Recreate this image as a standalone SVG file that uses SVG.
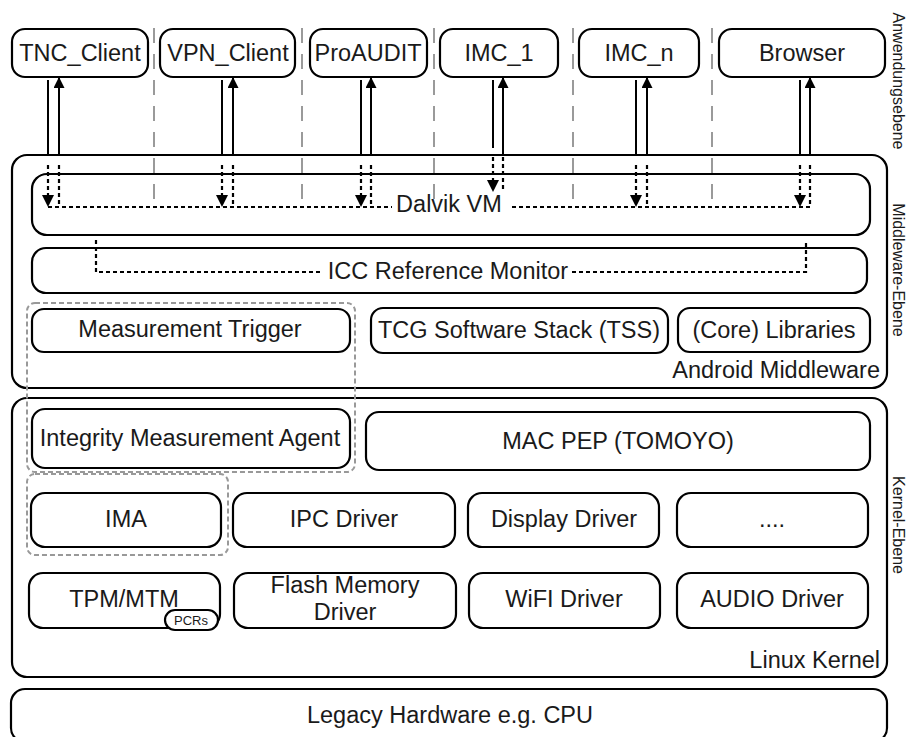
<svg xmlns="http://www.w3.org/2000/svg" width="908" height="737" viewBox="0 0 908 737">
<defs>
<style>
.box{fill:#fff;stroke:#000;stroke-width:2.2}
.frame{fill:none;stroke:#000;stroke-width:2.2}
.grp{fill:none;stroke:#999;stroke-width:2;stroke-dasharray:5,3}
.sep{fill:none;stroke:#9a9a9a;stroke-width:2;stroke-dasharray:15,11}
.solid{fill:none;stroke:#000;stroke-width:2}
.dot{fill:none;stroke:#000;stroke-width:2.2;stroke-dasharray:4,3}
text{font-family:"Liberation Sans",Arial,sans-serif;fill:#1a1a1a}
.t{font-size:23.5px;text-anchor:middle}
.side{font-size:16px;text-anchor:middle}
</style>
<marker id="ah" viewBox="0 0 10 10" refX="10" refY="5" markerWidth="6" markerHeight="5.5" markerUnits="strokeWidth" orient="auto">
<path d="M0,0 L10,5 L0,10 z" fill="#000"/>
</marker>
</defs>
<rect width="908" height="737" fill="#fff"/>

<!-- layer frames -->
<g id="layer-middleware">
<rect class="frame" x="12" y="155" width="875" height="233" rx="15"/>
<text x="880" y="378" style="font-size:23.5px;text-anchor:end">Android Middleware</text>
</g>
<g id="layer-kernel">
<rect class="frame" x="12" y="398" width="875" height="279" rx="15"/>
<text x="880" y="668" style="font-size:23.5px;text-anchor:end">Linux Kernel</text>
</g>
<g id="legacy">
<rect class="frame" x="11" y="689" width="876" height="53" rx="14"/>
<text class="t" x="450" y="723">Legacy Hardware e.g. CPU</text>
</g>

<!-- app nodes -->
<g id="tnc_client"><rect class="box" x="12" y="29" width="136" height="48" rx="13"/><text class="t" x="80" y="61">TNC_Client</text></g>
<g id="vpn_client"><rect class="box" x="160" y="29" width="135" height="48" rx="13"/><text class="t" x="228" y="61">VPN_Client</text></g>
<g id="proaudit"><rect class="box" x="310" y="29" width="117" height="48" rx="13"/><text class="t" x="368" y="61">ProAUDIT</text></g>
<g id="imc_1"><rect class="box" x="440" y="29" width="118" height="48" rx="13"/><text class="t" x="499" y="61">IMC_1</text></g>
<g id="imc_n"><rect class="box" x="579" y="29" width="120" height="48" rx="13"/><text class="t" x="639" y="61">IMC_n</text></g>
<g id="browser"><rect class="box" x="719" y="29" width="166" height="48" rx="13"/><text class="t" x="802" y="61">Browser</text></g>

<!-- middleware nodes -->
<g id="dalvik_vm"><rect class="box" x="32" y="174" width="838" height="61" rx="15"/></g>
<g id="icc_monitor"><rect class="box" x="32" y="248" width="835" height="45" rx="14"/></g>
<g id="measurement_trigger"><rect class="box" x="32" y="309" width="318" height="43" rx="12"/><text class="t" x="190" y="337">Measurement Trigger</text></g>
<g id="tss"><rect class="box" x="371" y="308" width="297" height="45" rx="12"/><text class="t" x="519" y="338">TCG Software Stack (TSS)</text></g>
<g id="core_libraries"><rect class="box" x="678" y="308" width="192" height="44" rx="12"/><text class="t" x="774" y="338">(Core) Libraries</text></g>

<!-- kernel nodes -->
<g id="ima_agent"><rect class="box" x="32" y="409" width="318" height="59" rx="13"/><text class="t" x="190" y="446">Integrity Measurement Agent</text></g>
<g id="mac_pep"><rect class="box" x="366" y="412" width="504" height="58" rx="13"/><text class="t" x="618" y="449">MAC PEP (TOMOYO)</text></g>
<g id="ima"><rect class="box" x="31" y="493" width="190" height="54" rx="14"/><text class="t" x="126" y="527">IMA</text></g>
<g id="ipc_driver"><rect class="box" x="233" y="493" width="222" height="54" rx="14"/><text class="t" x="344" y="527">IPC Driver</text></g>
<g id="display_driver"><rect class="box" x="468" y="493" width="191" height="54" rx="14"/><text class="t" x="564" y="527">Display Driver</text></g>
<g id="more_drivers"><rect class="box" x="677" y="493" width="191" height="54" rx="14"/><text class="t" x="772" y="527">....</text></g>
<g id="tpm_mtm"><rect class="box" x="29" y="573" width="191" height="55" rx="14"/><text class="t" x="124" y="607">TPM/MTM</text>
<rect class="box" x="165" y="610" width="53" height="20" rx="10"/><text x="191" y="625" style="font-size:13px;text-anchor:middle">PCRs</text></g>
<g id="flash_driver"><rect class="box" x="234" y="573" width="222" height="55" rx="14"/><text class="t" x="345" y="593">Flash Memory</text><text class="t" x="345" y="620">Driver</text></g>
<g id="wifi_driver"><rect class="box" x="469" y="573" width="191" height="55" rx="14"/><text class="t" x="564" y="607">WiFI Driver</text></g>
<g id="audio_driver"><rect class="box" x="677" y="573" width="191" height="55" rx="14"/><text class="t" x="772" y="607">AUDIO Driver</text></g>

<!-- grey dashed groupings -->
<g id="groups">
<rect class="grp" x="27" y="303" width="328" height="169" rx="8"/>
<rect class="grp" x="27" y="474" width="201" height="81" rx="8"/>
</g>

<!-- separators -->
<g id="separators">
<line class="sep" x1="154" y1="28" x2="154" y2="200"/>
<line class="sep" x1="302" y1="28" x2="302" y2="200"/>
<line class="sep" x1="434" y1="28" x2="434" y2="200"/>
<line class="sep" x1="573" y1="28" x2="573" y2="200"/>
<line class="sep" x1="712" y1="28" x2="712" y2="200"/>
</g>

<!-- connectors -->
<g id="connectors">
<line class="solid" x1="48" y1="80" x2="48" y2="155"/>
<line class="solid" x1="222" y1="80" x2="222" y2="155"/>
<line class="solid" x1="361" y1="80" x2="361" y2="155"/>
<line class="solid" x1="493" y1="80" x2="493" y2="148"/>
<line class="solid" x1="636" y1="80" x2="636" y2="155"/>
<line class="solid" x1="800" y1="80" x2="800" y2="155"/>
<line class="solid" x1="59" y1="155" x2="59" y2="77" marker-end="url(#ah)"/>
<line class="solid" x1="233" y1="155" x2="233" y2="77" marker-end="url(#ah)"/>
<line class="solid" x1="371" y1="155" x2="371" y2="77" marker-end="url(#ah)"/>
<line class="solid" x1="503" y1="155" x2="503" y2="77" marker-end="url(#ah)"/>
<line class="solid" x1="647" y1="155" x2="647" y2="77" marker-end="url(#ah)"/>
<line class="solid" x1="810" y1="155" x2="810" y2="77" marker-end="url(#ah)"/>
<line class="dot" x1="48" y1="165" x2="48" y2="207" marker-end="url(#ah)"/>
<line class="dot" x1="222" y1="165" x2="222" y2="207" marker-end="url(#ah)"/>
<line class="dot" x1="361" y1="165" x2="361" y2="207" marker-end="url(#ah)"/>
<line class="dot" x1="493" y1="157" x2="493" y2="192" marker-end="url(#ah)"/>
<line class="dot" x1="636" y1="165" x2="636" y2="207" marker-end="url(#ah)"/>
<line class="dot" x1="800" y1="165" x2="800" y2="207" marker-end="url(#ah)"/>
<line class="dot" x1="59" y1="165" x2="59" y2="207"/>
<line class="dot" x1="233" y1="165" x2="233" y2="207"/>
<line class="dot" x1="371" y1="165" x2="371" y2="207"/>
<line class="dot" x1="503" y1="157" x2="503" y2="190"/>
<line class="dot" x1="647" y1="165" x2="647" y2="207"/>
<line class="dot" x1="810" y1="165" x2="810" y2="207"/>
<line class="dot" x1="48" y1="207" x2="392" y2="207"/>
<line class="dot" x1="512" y1="207" x2="810" y2="207"/>
<path class="dot" d="M96,240 V272 H320"/>
<path class="dot" d="M572,272 H806 V240"/>
</g>

<text class="t" x="449" y="212">Dalvik VM</text>
<text class="t" x="448" y="279">ICC Reference Monitor</text>

<text class="side" transform="translate(893,81) rotate(90)">Anwendungsebene</text>
<text class="side" transform="translate(893,270) rotate(90)">Middleware-Ebene</text>
<text class="side" transform="translate(893,525) rotate(90)">Kernel-Ebene</text>
</svg>
